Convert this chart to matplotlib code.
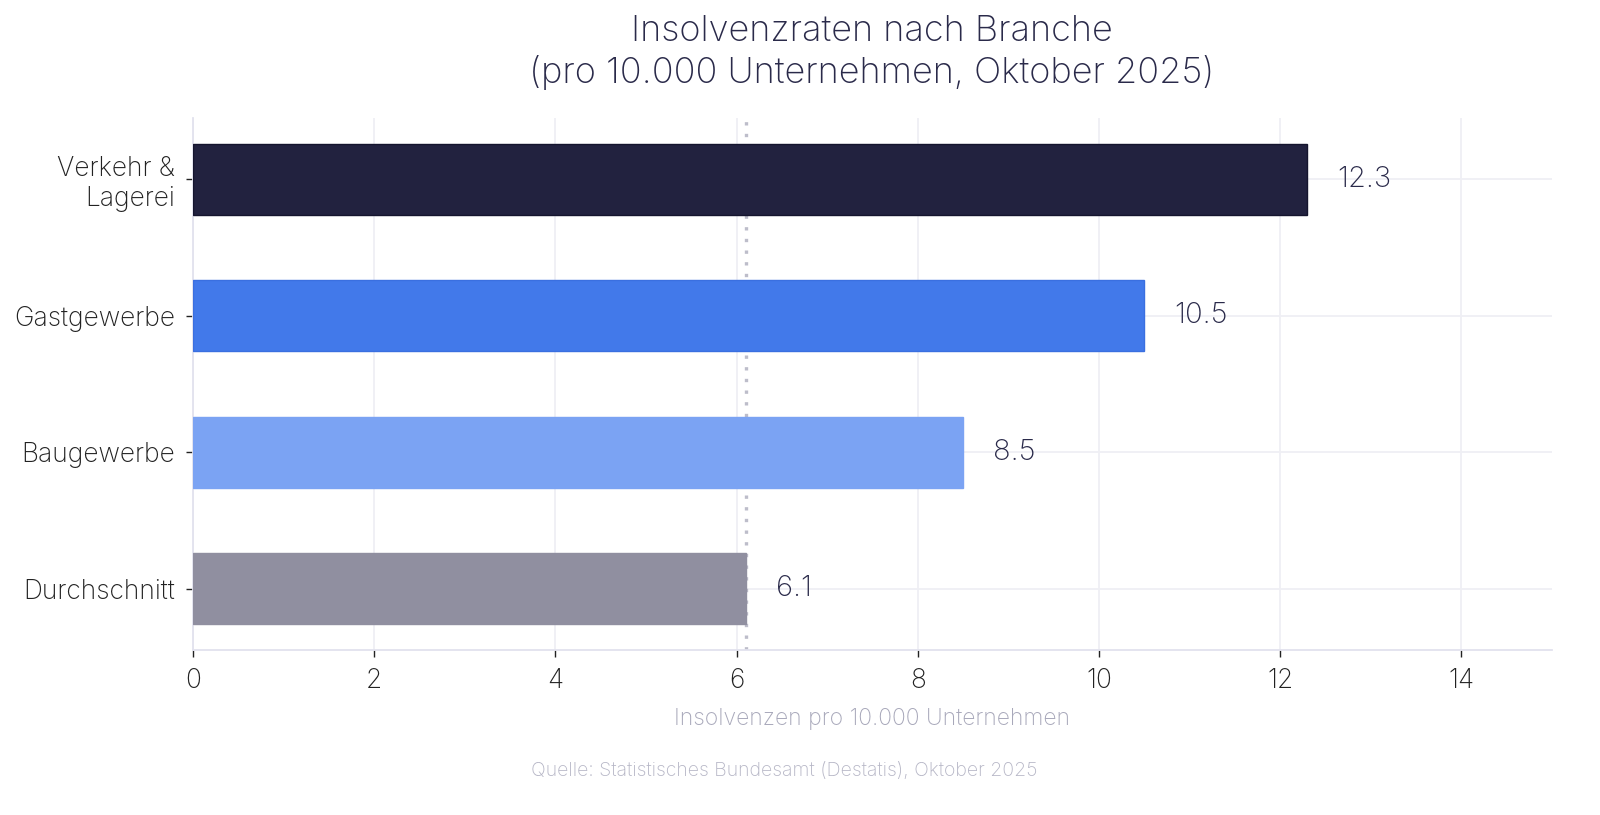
import matplotlib
matplotlib.use("Agg")
import matplotlib.pyplot as plt

# Daten
branchen = ["Verkehr &\nLagerei", "Gastgewerbe", "Baugewerbe", "Durchschnitt"]
raten = [12.3, 10.5, 8.5, 6.1]
farben = ["#22223f", "#4279ea", "#7ba3f3", "#908fa0"]
kanten = ["#15152e", "#3a6fe0", "#7ba3f3", "#908fa0"]
durchschnitt = 6.1

plt.rcParams["font.family"] = ["Inter", "DejaVu Sans"]
plt.rcParams["font.weight"] = "light"

fig = plt.figure(figsize=(16, 8.15), dpi=100)
ax = fig.add_axes([193 / 1600, 1 - 650 / 815, (1552 - 193) / 1600, (650 - 118) / 815])

y = list(range(len(branchen)))[::-1]
ax.barh(y, raten, height=0.52, color=farben, edgecolor=kanten, linewidth=1, zorder=3)

ax.axvline(durchschnitt, color="#bdbdca", linestyle=(0, (1, 2.5)), linewidth=2.4, zorder=1)

for yi, v in zip(y, raten):
    ax.text(v + 0.33, yi, f"{v}", va="center", ha="left", fontsize=21,
            color="#2a2a4a", fontweight="light", zorder=4)

ax.set_xlim(0, 15)
ax.set_ylim(-0.45, 3.45)
ax.set_xticks(range(0, 15, 2))
ax.set_yticks(y)
ax.set_yticklabels(branchen, fontsize=19, fontweight="light")
ax.tick_params(axis="x", labelsize=19, length=5, color="#222222", width=1, pad=8)
ax.tick_params(axis="y", length=5, color="#222222", width=1, pad=8)
for lab in ax.get_xticklabels() + ax.get_yticklabels():
    lab.set_color("#222222")
    lab.set_fontweight("light")

ax.grid(True, color="#efeff4", linewidth=1.3, zorder=0)
ax.set_axisbelow(True)
for s in ["top", "right"]:
    ax.spines[s].set_visible(False)
ax.spines["left"].set_color("#e2e2ee")
ax.spines["bottom"].set_color("#e2e2ee")
ax.spines["left"].set_linewidth(1.3)
ax.spines["bottom"].set_linewidth(1.3)

ax.set_xlabel("Insolvenzen pro 10.000 Unternehmen", fontsize=16.5, color="#a8a8ba",
              labelpad=10, fontweight="light")

fig.text(872 / 1600, 1 - 52 / 815, "Insolvenzraten nach Branche\n(pro 10.000 Unternehmen, Oktober 2025)",
         ha="center", va="center", fontsize=26, color="#2a2a4a", linespacing=1.25,
         fontweight="light")
fig.text(784 / 1600, 1 - 771 / 815, "Quelle: Statistisches Bundesamt (Destatis), Oktober 2025",
         ha="center", va="center", fontsize=14, color="#b6b6c6", fontweight="light")

fig.savefig("out.png", dpi=100)
